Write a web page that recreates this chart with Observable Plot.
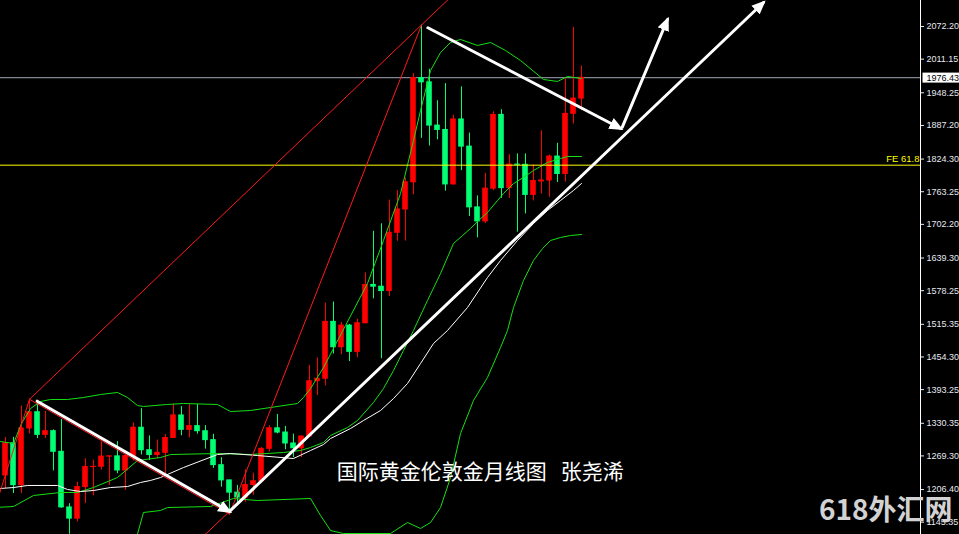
<!DOCTYPE html>
<html><head><meta charset="utf-8">
<script src="https://cdn.jsdelivr.net/npm/d3@7"></script>
<script src="https://cdn.jsdelivr.net/npm/@observablehq/plot@0.6"></script>
<style>
html,body{margin:0;padding:0;background:#000;overflow:hidden}
#chart{width:959px;height:534px}
svg text{white-space:pre}
</style></head><body><div id="chart"></div>
<script>
// Monthly candles, Apr 2016 – Apr 2022 (index 0..72)
const months = ["2016-04","2016-05","2016-06","2016-07","2016-08","2016-09","2016-10","2016-11","2016-12",
"2017-01","2017-02","2017-03","2017-04","2017-05","2017-06","2017-07","2017-08","2017-09","2017-10","2017-11","2017-12",
"2018-01","2018-02","2018-03","2018-04","2018-05","2018-06","2018-07","2018-08","2018-09","2018-10","2018-11","2018-12",
"2019-01","2019-02","2019-03","2019-04","2019-05","2019-06","2019-07","2019-08","2019-09","2019-10","2019-11","2019-12",
"2020-01","2020-02","2020-03","2020-04","2020-05","2020-06","2020-07","2020-08","2020-09","2020-10","2020-11","2020-12",
"2021-01","2021-02","2021-03","2021-04","2021-05","2021-06","2021-07","2021-08","2021-09","2021-10","2021-11","2021-12",
"2022-01","2022-02","2022-03","2022-04"];
const open = [1232.7,1292.9,1214.6,1320.6,1351.0,1308.6,1315.6,1277.0,1173.0,1152.0,1211.0,1248.5,1249.0,1268.0,1268.5,1242.0,1269.0,1322.0,1280.0,1271.0,1275.0,1302.8,1345.0,1318.0,1325.0,1315.5,1298.8,1252.0,1223.5,1200.6,1191.4,1214.9,1222.0,1282.5,1321.0,1313.0,1292.5,1283.6,1305.6,1409.0,1413.6,1520.0,1472.5,1513.0,1463.8,1517.3,1589.0,1585.7,1577.5,1686.5,1730.0,1780.9,1975.9,1967.8,1886.9,1878.8,1776.9,1898.4,1847.6,1734.0,1707.7,1769.0,1906.9,1770.0,1814.0,1813.6,1757.3,1782.5,1784.3,1829.0,1796.4,1908.9,1937.4];
const high = [1303.8,1304.0,1362.6,1375.1,1367.0,1352.8,1318.0,1337.5,1180.0,1220.0,1264.0,1261.5,1295.4,1269.6,1296.0,1272.0,1331.0,1357.6,1306.8,1299.0,1309.0,1366.0,1361.4,1365.0,1365.5,1326.0,1309.8,1265.9,1224.0,1214.2,1243.3,1237.0,1284.7,1326.0,1346.8,1324.5,1310.0,1306.0,1438.6,1452.6,1555.0,1557.1,1518.7,1515.3,1525.0,1611.4,1689.3,1703.4,1747.7,1765.4,1789.0,1984.0,2075.1,1992.3,1933.4,1965.5,1906.3,1959.2,1873.0,1755.5,1797.8,1912.8,1916.7,1832.8,1834.0,1834.0,1813.8,1877.2,1831.9,1853.9,1974.4,2070.4,1998.4];
const low = [1207.8,1199.0,1199.0,1310.3,1301.6,1302.0,1241.3,1171.4,1122.8,1146.0,1180.0,1194.5,1243.0,1214.0,1236.0,1204.9,1260.0,1271.0,1260.6,1264.0,1236.0,1302.6,1307.0,1303.0,1310.0,1282.0,1246.0,1211.0,1160.4,1180.6,1182.5,1196.0,1221.4,1276.6,1310.5,1280.7,1266.0,1266.2,1305.0,1381.9,1400.3,1459.7,1458.7,1445.7,1453.0,1516.3,1563.0,1451.0,1567.1,1670.7,1671.0,1757.5,1863.0,1848.8,1860.3,1764.5,1775.6,1802.6,1717.0,1676.9,1704.0,1765.4,1750.8,1751.0,1687.7,1721.7,1746.0,1758.7,1753.0,1780.5,1781.3,1890.0,1915.0];
const close = [1292.9,1214.6,1320.6,1351.0,1308.6,1315.6,1277.0,1173.0,1152.0,1211.0,1248.5,1249.0,1268.0,1268.5,1242.0,1269.0,1322.0,1280.0,1271.0,1275.0,1302.8,1345.0,1318.0,1325.0,1315.5,1298.8,1252.0,1223.5,1200.6,1191.4,1214.9,1222.0,1282.5,1321.0,1313.0,1292.5,1283.6,1305.6,1409.0,1413.6,1520.0,1472.5,1513.0,1463.8,1517.3,1589.0,1585.7,1577.5,1686.5,1730.0,1780.9,1975.9,1967.8,1886.9,1878.8,1776.9,1898.4,1847.6,1734.0,1707.7,1769.0,1906.9,1770.0,1814.0,1813.6,1757.3,1783.4,1784.3,1829.0,1796.4,1908.9,1937.4,1976.4];

// Indicator lines: [month index, price]
const upperBand = [[-0.63,1296.2],[1,1292.5],[2,1329.9],[3.13,1357.9],[4.38,1371.0],[5.63,1374.8],[7.75,1374.8],[9.75,1378.5],[11.88,1384.1],[14,1387.9],[15.25,1378.5],[16.5,1363.5],[17.25,1361.7],[20.13,1365.4],[22.25,1367.3],[26.5,1365.4],[28.13,1352.3],[30.63,1354.2],[33.13,1359.8],[36.5,1367.3],[37.25,1378.5],[38.13,1395.3],[39.75,1434.6],[42.5,1513.1],[45.25,1591.7],[47.25,1672.1],[49.38,1759.9],[51,1859.0],[51.88,1915.1],[53.13,1989.9],[54.38,2023.6],[55.63,2042.3],[56.88,2047.9],[59,2036.7],[60.63,2042.3],[62.5,2027.3],[64.38,2008.6],[67.25,1973.1],[69,1969.4],[70.25,1978.7],[72,1975.0]];
const middleBand = [[-0.63,1173.4],[1,1174.7],[3.5,1195.3],[6.88,1200.9],[9,1200.9],[11,1210.2],[14,1228.9],[16.5,1260.7],[19.38,1266.3],[20.63,1271.9],[26.5,1273.8],[30.63,1271.9],[34.75,1275.7],[36.88,1279.4],[38.13,1285.0],[39.75,1294.4],[40.63,1307.5],[42.75,1322.4],[44,1335.5],[46,1369.2],[47.25,1395.3],[48.5,1429.0],[49.75,1466.4],[51,1503.8],[52.75,1559.9],[54.38,1610.4],[56,1666.5],[57.13,1681.4],[58.13,1694.5],[59.13,1709.5],[60.25,1724.4],[61.5,1746.9],[62.25,1759.9],[63.5,1778.6],[64.75,1789.9],[66,1802.9],[67.75,1817.9],[69.38,1825.4],[70.25,1829.1],[72,1829.1]];
const lowerBand = [[16,1096.2],[17.25,1163.5],[19.38,1167.2],[20.25,1172.8],[25.63,1174.7],[28.5,1189.7],[31.5,1185.9],[38.13,1189.7],[39.38,1157.9],[40.63,1129.8],[42.25,1124.2],[48.13,1124.2],[50.25,1144.8],[51.88,1133.6],[53.13,1144.8],[54.38,1172.8],[55.63,1228.9],[56.88,1311.2],[58.5,1372.9],[60.25,1415.9],[61.88,1472.0],[62.75,1503.8],[63.5,1546.8],[64.75,1597.3],[66,1634.7],[67.13,1657.1],[68.13,1672.1],[69.38,1677.7],[70.63,1681.4],[72,1683.3]];
const longMA = [[-0.63,1208.4],[1,1210.2],[2.75,1214.0],[6.5,1214.0],[7.75,1206.5],[9.38,1202.7],[11,1204.6],[13.13,1210.2],[15.25,1212.1],[16.88,1219.6],[18.13,1223.4],[19.38,1228.9],[22.25,1247.6],[26.5,1271.9],[28.13,1273.8],[31.5,1270.0],[36,1264.4],[38.13,1279.4],[39.75,1290.6],[40.63,1301.8],[43.13,1320.5],[44.75,1335.5],[46.88,1354.2],[48.5,1376.6],[50.25,1404.7],[51.88,1442.1],[53.5,1479.5],[55.25,1503.8],[57.75,1546.8],[60.25,1602.9],[61.88,1634.7],[64,1672.1],[66,1703.8],[67.75,1728.2],[69.38,1746.9],[71,1765.6],[72,1778.6]];

// Drawn objects: [month index, price]
const redLines = [
  {id:"AB", pts:[[-4,1046.2],[3,1375.1]]},
  {id:"BC", pts:[[3,1375.1],[28,1160.4]]},
  {id:"CD", pts:[[28,1160.4],[52,2075.1]]},
  {id:"BD", pts:[[3,1375.1],[56,2132.2]]},
  {id:"CE", pts:[[24.8,1120.0],[94.75,2117.1]]}
];
const arrows = [
  {id:1, pts:[[3.96,1371.6],[28,1165.3]]},
  {id:2, pts:[[28.1,1167.0],[94.75,2117.1]]},
  {id:3, pts:[[52.8,2069.8],[76.9,1881.5]]},
  {id:4, pts:[[77.1,1884.0],[82.75,2085.3]]}
];
const currentPrice = 1976.43;
const feLevel = 1812.9;
const feLabel = "FE 61.8";
const yTicks = [2072.20,2011.15,1948.25,1887.20,1824.30,1763.25,1702.20,1639.30,1578.25,1515.35,1454.30,1393.25,1330.35,1269.30,1206.40,1145.35];
const titleText = "国际黄金伦敦金月线图\u00a0\u00a0\u00a0张尧浠";
const titlePos = [41.4, 1238.3];
const watermark = "618外汇网";

const candles = months.map((m, i) => ({i, m, o: open[i], h: high[i], l: low[i], c: close[i]}));
const UP = "#ff0000", DOWN = "#00ff72", BAND = "#14e014";
const col = d => d.c >= d.o ? UP : DOWN;
const flat = arr => arr.flatMap(a => a.pts.map(p => ({id: a.id, x: p[0], y: p[1]})));

function headMarker(color) {
  const m = d3.create("svg:marker")
    .attr("viewBox", "-14 -6.5 14 13")
    .attr("markerUnits", "userSpaceOnUse")
    .attr("markerWidth", 14).attr("markerHeight", 13)
    .attr("refX", -3).attr("refY", 0)
    .attr("orient", "auto");
  m.append("path").attr("d", "M-14,-6L0,0L-14,6Z").attr("fill", color).attr("stroke", "none");
  return m.node();
}

const chart = Plot.plot({
  width: 959, height: 534,
  marginLeft: 0, marginRight: 39, marginTop: 0, marginBottom: 0,
  style: {background: "#000", color: "#e6e9f0", fontFamily: "'Liberation Sans', Arial, sans-serif", fontSize: "9px"},
  x: {domain: [-0.625, 114.375], axis: null},
  y: {domain: [1122.35, 2120.81], axis: null},
  marks: [
    Plot.ruleY([currentPrice], {stroke: "#a3a7b5", strokeWidth: 1}),
    Plot.ruleX(candles, {x: "i", y1: "l", y2: "h", stroke: col, strokeWidth: 1, clip: true}),
    Plot.rect(candles, {x1: d => d.i - 0.35, x2: d => d.i + 0.35,
      y1: d => Math.min(d.o, d.c), y2: d => Math.max(d.o, d.c),
      insetTop: -0.5, insetBottom: -0.5, fill: col, clip: true}),
    Plot.line(upperBand, {x: d => d[0], y: d => d[1], stroke: BAND, strokeWidth: 1, clip: true}),
    Plot.line(middleBand, {x: d => d[0], y: d => d[1], stroke: BAND, strokeWidth: 1, clip: true}),
    Plot.line(lowerBand, {x: d => d[0], y: d => d[1], stroke: BAND, strokeWidth: 1, clip: true}),
    Plot.line(longMA, {x: d => d[0], y: d => d[1], stroke: "#ffffff", strokeWidth: 1, clip: true}),
    Plot.ruleY([feLevel], {stroke: "#ffff00", strokeWidth: 1}),
    Plot.line(flat(redLines), {x: "x", y: "y", z: "id", stroke: "#ff1a1a", strokeWidth: 1, clip: true}),
    Plot.line(flat(arrows), {x: "x", y: "y", z: "id", stroke: "#ffffff", strokeWidth: 3, markerEnd: headMarker, clip: true}),
    Plot.text([feLabel], {text: d => d, y: feLevel, frameAnchor: "right", textAnchor: "end", dx: -1, dy: -6, fill: "#ffff00", fontSize: 9.5}),
    Plot.text([titleText], {text: d => d, x: titlePos[0], y: titlePos[1], textAnchor: "start", fill: "#ffffff",
      fontSize: 21, fontFamily: "'Noto Sans CJK SC', sans-serif"}),
    Plot.frame({anchor: "right", stroke: "#ffffff"}),
    Plot.axisY({anchor: "right", ticks: yTicks, tickFormat: d => d.toFixed(2), tickSize: 3, tickPadding: 3, color: "#e6e9f0", fontSize: 9}),
    Plot.text([currentPrice], {text: d => d.toFixed(2), y: d => d, frameAnchor: "right", textAnchor: "start", dx: 6, fill: "#000", fontSize: 9}),
    Plot.text([watermark], {text: d => d, frameAnchor: "bottom-right", textAnchor: "end", lineAnchor: "middle", dx: 32, dy: -23,
      fill: "#d2d2d2", fontSize: 28, fontWeight: "bold", fontFamily: "'Noto Sans CJK SC', sans-serif"})
  ]
});
document.getElementById("chart").appendChild(chart);

// white box behind current price label
const svg = chart.tagName.toLowerCase() === "svg" ? chart : chart.querySelector("svg");
const lab = [...svg.querySelectorAll("text")].find(t => t.textContent === currentPrice.toFixed(2));
if (lab) {
  const sr = svg.getBoundingClientRect(), r = lab.getBoundingClientRect();
  let g = lab; while (g.parentNode !== svg) g = g.parentNode;
  const rect = document.createElementNS("http://www.w3.org/2000/svg", "rect");
  rect.setAttribute("x", r.left - sr.left - 4);
  rect.setAttribute("y", r.top - sr.top);
  rect.setAttribute("width", sr.right - r.left + 4);
  rect.setAttribute("height", r.height);
  rect.setAttribute("fill", "#ffffff");
  svg.insertBefore(rect, g);
}
</script></body></html>
